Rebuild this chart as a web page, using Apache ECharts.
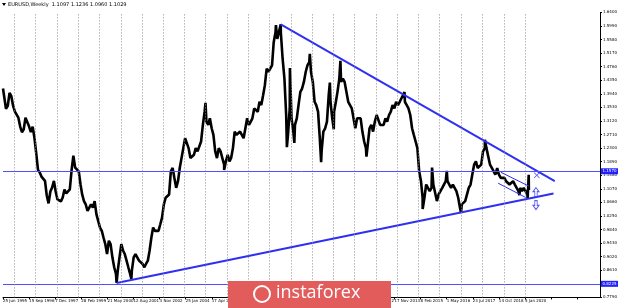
<!DOCTYPE html>
<html><head><meta charset="utf-8">
<script src="https://cdn.jsdelivr.net/npm/echarts@6/dist/echarts.min.js"></script>
<style>html,body{margin:0;padding:0;background:#fff}#c{width:620px;height:308px}</style>
</head><body><div id="c"></div>
<script>
// ---------- data ----------
const chartTitle = 'EURUSD,Weekly  1.1097 1.1236 1.0960 1.1029';
const dateLabels = ['25 Jun 1995','15 Sep 1996','7 Dec 1997','28 Feb 1999','21 May 2000','12 Aug 2001','3 Nov 2002','25 Jan 2004','17 Apr 2005','9 Jul 2006','30 Sep 2007','21 Dec 2008','14 Mar 2010','5 Jun 2011','26 Aug 2012','17 Nov 2013','8 Feb 2015','1 May 2016','23 Jul 2017','14 Oct 2018','5 Jan 2020'];
const firstBarDate = '1995-06-25';
const weeksPerLabel = 64;
const weeksShown = 1464;
const yMin = 0.779, yMax = 1.640, yStep = 0.041;
// yearly period separators (first weekly bar of each year)
const separatorDates = ['1996-01-07','1997-01-05','1998-01-04','1999-01-03','2000-01-02','2001-01-07','2002-01-06','2003-01-05','2004-01-04','2005-01-02','2006-01-01','2007-01-07','2008-01-06','2009-01-04','2010-01-03','2011-01-02','2012-01-01','2013-01-06','2014-01-05','2015-01-04','2016-01-03','2017-01-01','2018-01-07','2019-01-06','2020-01-05'];

// monthly levels, mid-month, starting July 1995
const monthly1995 = [1.407,1.349,1.358,1.397,1.387,1.358];
const monthly1996 = [1.340,1.340,1.322,1.295,1.278,1.287,1.322,1.322,1.295,1.278,1.295,1.262];
const monthly1997 = [1.215,1.164,1.157,1.144,1.150,1.131,1.087,1.063,1.099,1.111,1.131,1.099];
const monthly1998 = [1.075,1.075,1.069,1.081,1.105,1.093,1.087,1.105,1.164,1.207,1.171,1.171];
const monthly1999 = [1.16,1.12,1.09,1.07,1.06,1.04,1.05,1.06,1.05,1.07,1.03,1.01];
const monthly2000 = [0.99,0.98,0.96,0.94,0.91,0.95,0.94,0.90,0.87,0.85,0.86,0.90];
const monthly2001 = [0.94,0.92,0.91,0.89,0.87,0.85,0.86,0.90,0.91,0.91,0.89,0.89];
const monthly2002 = [0.88,0.87,0.88,0.89,0.92,0.96,0.99,0.98,0.98,0.98,1.00,1.02];
const monthly2003 = [1.06,1.08,1.08,1.09,1.16,1.17,1.14,1.11,1.13,1.17,1.17,1.23];
const monthly2004 = [1.26,1.26,1.23,1.20,1.20,1.21,1.23,1.22,1.22,1.25,1.30,1.34];
const monthly2005 = [1.31,1.30,1.32,1.29,1.27,1.22,1.20,1.23,1.22,1.20,1.18,1.19];
const monthly2006 = [1.21,1.19,1.20,1.23,1.28,1.27,1.27,1.28,1.27,1.26,1.29,1.32];
const monthly2007 = [1.30,1.31,1.32,1.35,1.35,1.34,1.37,1.36,1.39,1.42,1.47,1.46];
const monthly2008 = [1.47,1.48,1.55,1.58,1.56,1.56,1.58,1.50,1.44,1.33,1.27,1.35];
const monthly2009 = [1.32,1.28,1.30,1.32,1.36,1.40,1.41,1.43,1.46,1.48,1.49,1.46];
const monthly2010 = [1.43,1.37,1.36,1.34,1.26,1.22,1.28,1.29,1.31,1.39,1.37,1.32];
const monthly2011 = [1.34,1.37,1.40,1.44,1.43,1.44,1.43,1.43,1.37,1.37,1.35,1.32];
const monthly2012 = [1.29,1.32,1.32,1.32,1.28,1.25,1.23,1.24,1.29,1.30,1.28,1.31];
const monthly2013 = [1.33,1.33,1.30,1.30,1.30,1.32,1.31,1.33,1.34,1.36,1.35,1.37];
const monthly2014 = [1.36,1.37,1.38,1.38,1.37,1.36,1.35,1.33,1.29,1.27,1.25,1.23];
const monthly2015 = [1.16,1.13,1.08,1.08,1.12,1.12,1.10,1.11,1.12,1.12,1.07,1.09];
const monthly2016 = [1.09,1.11,1.11,1.13,1.13,1.12,1.11,1.12,1.12,1.10,1.08,1.05];
const monthly2017 = [1.06,1.06,1.07,1.07,1.11,1.12,1.15,1.18,1.19,1.17,1.17,1.18];
const monthly2018 = [1.22,1.23,1.23,1.23,1.18,1.17,1.17,1.15,1.17,1.15,1.14,1.14];
const monthly2019 = [1.14,1.13,1.13,1.12,1.12,1.13,1.12,1.11,1.10,1.11,1.10,1.11];
const monthly2020 = [1.11,1.09];

// swing highs / lows
const pivotDates  = ['1995-06-25','2000-10-26','2001-07-06','2004-12-30','2005-11-15','2008-04-22','2008-07-14','2008-10-27','2008-12-18','2009-03-04','2009-11-25','2010-06-07','2010-11-04','2011-01-10','2011-05-04','2012-07-24','2014-05-08','2015-03-16','2015-08-24','2016-05-03','2017-01-03','2018-02-16','2019-10-01','2020-02-20','2020-03-09','2020-03-12','2020-03-17'];
const pivotValues = [1.410,0.8225,0.8345,1.3667,1.1640,1.6019,1.6038,1.2330,1.4720,1.2455,1.5145,1.1876,1.4282,1.2870,1.4940,1.2042,1.3993,1.0462,1.1714,1.1616,1.0341,1.2555,1.0879,1.0778,1.1495,1.1055,1.1029];

// drawn objects
const upperTrendDates = ['2008-07-14','2021-05-30'];
const upperTrendValues = [1.6038,1.130];
const lowerTrendDates = ['2000-10-26','2021-05-09'];
const lowerTrendValues = [0.8225,1.093];
const channelTopDates = ['2018-11-18','2020-03-13'];
const channelTopValues = [1.157,1.115];
const channelBottomDates = ['2018-10-01','2020-02-08'];
const channelBottomValues = [1.124,1.079];
const levelLines = [1.1570, 0.8225];
const currentPrice = 1.1029;
const crossDate = '2020-07-26', crossValue = 1.148;
const upArrowDate = '2020-07-12', upArrowValue = 1.097;
const downArrowDate = '2020-07-12', downArrowValue = 1.058;

// ---------- build ----------
function weekOf(s){
  const p = s.split('-').map(Number);
  const f = firstBarDate.split('-').map(Number);
  return (Date.UTC(p[0],p[1]-1,p[2]) - Date.UTC(f[0],f[1]-1,f[2])) / (7*864e5);
}
const monthlyAll = [].concat(monthly1995,monthly1996,monthly1997,monthly1998,monthly1999,monthly2000,monthly2001,monthly2002,monthly2003,monthly2004,monthly2005,monthly2006,monthly2007,monthly2008,monthly2009,monthly2010,monthly2011,monthly2012,monthly2013,monthly2014,monthly2015,monthly2016,monthly2017,monthly2018,monthly2019,monthly2020);
const pricePts = [];
monthlyAll.forEach((v,i)=>{
  const m = 6 + i; const y = 1995 + Math.floor(m/12); const mm = m%12 + 1;
  pricePts.push([weekOf(y+'-'+String(mm).padStart(2,'0')+'-15'), v]);
});
pivotDates.forEach((d,i)=>pricePts.push([weekOf(d), pivotValues[i]]));
pricePts.sort((a,b)=>a[0]-b[0]);
const pair = (ds,vs)=>ds.map((d,i)=>[weekOf(d),vs[i]]);

const BLUE = '#2f2ff2';
const chart = echarts.init(document.getElementById('c'), null, {renderer:'canvas'});
const tiny = {fontFamily:'DejaVu Sans', fontSize:4, color:'#000'};
const arrowUp = 'path://M5,0 L10,5 L7,5 L7,11 L3,11 L3,5 L0,5 Z';
const arrowDown = 'path://M3,0 L7,0 L7,6 L10,6 L5,11 L0,6 L3,6 Z';
const crossPath = 'path://M0,1 L1,0 L5,4 L9,0 L10,1 L6,5 L10,9 L9,10 L5,6 L1,10 L0,9 L4,5 Z';
const tag = (bg)=>({position:'end',distance:1,backgroundColor:bg,color:'#fff',fontSize:4,fontFamily:'DejaVu Sans',padding:[1,1.5]});

chart.setOption({
  animation:false,
  backgroundColor:'#fff',
  grid:{left:1,right:17,top:12.4,bottom:10.6},
  xAxis:{type:'value',min:0,max:weeksShown,interval:weeksPerLabel,
    axisLine:{show:true,onZero:false,lineStyle:{color:'#000',width:1}},
    axisTick:{show:true,length:2,lineStyle:{color:'#000'}},
    axisLabel:Object.assign({margin:1.5,align:'left',showMinLabel:true,showMaxLabel:false,hideOverlap:false,
      formatter:v=>{const k=Math.round(v/weeksPerLabel);return (Math.abs(v-k*weeksPerLabel)<1e-6 && dateLabels[k])?dateLabels[k]:'';}},tiny),
    splitLine:{show:false}},
  yAxis:{type:'value',position:'right',min:yMin,max:yMax,interval:yStep,
    axisLine:{show:true,onZero:false,lineStyle:{color:'#000',width:1}},
    axisTick:{show:true,length:2,lineStyle:{color:'#000'}},
    axisLabel:Object.assign({margin:3,hideOverlap:false,formatter:v=>v.toFixed(4)},tiny),
    splitLine:{show:false}},
  graphic:[
    {type:'polygon',shape:{points:[[2,3],[6,3],[4,6]]},style:{fill:'#000'}},
    {type:'text',left:8,top:2,style:{text:chartTitle,fontFamily:'DejaVu Sans',fontSize:5,fill:'#000'},z:50},
    {type:'rect',shape:{x:228,y:281,width:163,height:27},style:{fill:'#e25c5c'},z:100},
    {type:'text',left:276,top:284,style:{text:'instaforex',fontFamily:'Open Sans',fontSize:18,fill:'#fff'},z:101},
    {type:'circle',shape:{cx:262,cy:294,r:8},style:{fill:'none',stroke:'#fff',lineWidth:2},z:101}
  ],
  series:[
    {type:'line',data:pricePts,symbol:'none',lineStyle:{color:'#000',width:2.6},z:2,
      markLine:{silent:true,symbol:['none','none'],
        data:[
          {yAxis:levelLines[0],lineStyle:{color:'#4f4fff',width:1,type:'solid'},label:Object.assign(tag('#2020ff'),{formatter:levelLines[0].toFixed(4)})},
          {yAxis:levelLines[1],lineStyle:{color:'#4f4fff',width:1,type:'solid'},label:Object.assign(tag('#2020ff'),{formatter:levelLines[1].toFixed(4)})},
          {yAxis:currentPrice,lineStyle:{opacity:0,width:0},label:Object.assign(tag('#000'),{formatter:currentPrice.toFixed(4)})}
        ]}},
    {type:'line',data:[],z:1,silent:true,
      markLine:{silent:true,symbol:['none','none'],label:{show:false},
        lineStyle:{color:'#8c8c8c',type:[1,2],width:1},
        data:separatorDates.map(d=>({xAxis:weekOf(d)}))}},
    {type:'line',data:pair(upperTrendDates,upperTrendValues),symbol:'none',lineStyle:{color:BLUE,width:2},z:3},
    {type:'line',data:pair(lowerTrendDates,lowerTrendValues),symbol:'none',lineStyle:{color:BLUE,width:2},z:3},
    {type:'line',data:pair(channelTopDates,channelTopValues),symbol:'none',lineStyle:{color:BLUE,width:1},z:3},
    {type:'line',data:pair(channelBottomDates,channelBottomValues),symbol:'none',lineStyle:{color:BLUE,width:1},z:3},
    {type:'scatter',data:[[weekOf(crossDate),crossValue]],symbol:crossPath,symbolSize:6,itemStyle:{color:BLUE},z:4},
    {type:'scatter',data:[[weekOf(upArrowDate),upArrowValue]],symbol:arrowUp,symbolSize:[6,9],itemStyle:{color:'#fff',borderColor:BLUE,borderWidth:1},z:4},
    {type:'scatter',data:[[weekOf(downArrowDate),downArrowValue]],symbol:arrowDown,symbolSize:[6,9],itemStyle:{color:'#fff',borderColor:BLUE,borderWidth:1},z:4}
  ]
});
</script></body></html>
